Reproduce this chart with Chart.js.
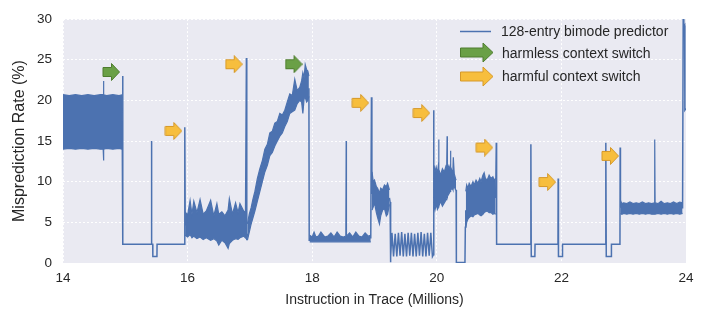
<!DOCTYPE html>
<html>
<head>
<meta charset="utf-8">
<script src="https://cdn.jsdelivr.net/npm/chart.js@4.4.1/dist/chart.umd.min.js"></script>
<style>
  body { margin: 0; background: #fff; }
  #wrap { position: relative; width: 715px; height: 310px; }
  #chart { display: block; }
  .item { position: absolute; white-space: nowrap; line-height: 16px;
          font-family: 'Liberation Sans', Arial, sans-serif; font-size: 14px; color: #262626; }
  .mark { position: absolute; }
</style>
</head>
<body>
<div id="wrap">
  <canvas id="chart" width="715" height="310"></canvas>
  <svg class="mark" style="left:460px;top:30px" width="31" height="3">
    <line x1="0" y1="1.5" x2="31" y2="1.5" stroke="#4C72B0" stroke-width="1.5"/>
  </svg>
  <span class="item" style="left:501px;top:23px">128-entry bimode predictor</span>
  <svg class="mark" style="left:459px;top:42px" width="36" height="21">
    <path d="M1.5 6 H24 V1 L34 10.5 L24 20 V15 H1.5 Z" fill="#6AA046" stroke="#4E7D2F" stroke-width="1"/>
  </svg>
  <span class="item" style="left:502px;top:45px">harmless context switch</span>
  <svg class="mark" style="left:459px;top:66px" width="36" height="21">
    <path d="M1.5 6 H24 V1 L34 10.5 L24 20 V15 H1.5 Z" fill="#F7BE3D" stroke="#D6992A" stroke-width="1"/>
  </svg>
  <span class="item" style="left:502px;top:68px">harmful context switch</span>
</div>
<script>
// main trace (null = covered by a dense band below)
const traceX = [14.95, 14.957, 14.962, 15.415, 15.42, 15.425, 15.44, 15.442, 15.508, 15.51, 15.95, 15.955, 15.962, 15.97,
  16.93, 16.944, 16.95, 16.96, 16.97,
  17.947, 17.952, 17.96, 17.97,
  18.94, 18.951, 18.958, 18.97,
  19.24, 19.25, 19.256, 19.262,
  19.28, 19.306, 19.332, 19.358, 19.384, 19.41, 19.436, 19.462, 19.488, 19.514, 19.54, 19.566, 19.592, 19.618,
  19.644, 19.67, 19.696, 19.722, 19.748, 19.774, 19.8, 19.826, 19.852, 19.878, 19.904, 19.93,
  19.944, 19.948, 19.955, 19.96,
  20.31, 20.314, 20.452, 20.458, 20.465, 20.47,
  20.945, 20.955, 20.96, 21.507, 21.51, 21.516, 21.574, 21.577, 21.945, 21.948, 21.953, 22.015, 22.018,
  22.709, 22.713, 22.72, 22.8, 22.803, 22.94, 22.943, 22.948, 22.955,
  23.945, 23.955, 23.965, 23.978, 23.982, 24.0];
const traceY = [17.4, 23.0, 2.3, 2.3, 15.0, 2.3, 2.3, 0.8, 0.8, 2.3, 2.3, 16.7, 4.6, null,
  5.0, 25.2, 2.8, 3.6, null,
  21.5, 2.8, 3.0, null,
  3.0, 20.4, 8.5, null,
  8.0, 7.5, 0.1, 0.8,
  3.7, 0.8, 3.6, 0.8, 3.7, 0.9, 3.8, 0.8, 3.6, 0.8, 3.7, 0.9, 3.7, 0.8,
  3.6, 0.8, 3.7, 0.9, 3.8, 0.8, 3.6, 0.8, 3.7, 0.9, 3.7, 0.8,
  1.0, 18.8, 9.0, null,
  9.0, 0.05, 0.05, 4.4, 6.5, null,
  8.0, 14.8, 2.3, 2.3, 14.6, 0.8, 0.8, 2.3, 2.3, 10.4, 0.8, 0.8, 2.3,
  2.3, 14.8, 0.8, 0.8, 2.3, 2.3, 14.2, 6.8, null,
  6.7, 30.0, 29.0, 29.2, 18.8, 19.0];

// dense oscillating stretches: x, upper edge, lower edge
const bandAX = [14.0, 14.1, 14.2, 14.3, 14.4, 14.5, 14.6, 14.645, 14.65, 14.655, 14.7, 14.8, 14.9, 14.95];
const bandAHi = [20.7, 20.6, 20.7, 20.6, 20.7, 20.6, 20.7, 20.7, 22.4, 20.7, 20.6, 20.7, 20.6, 20.7];
const bandALo = [14.0, 14.1, 14.0, 14.1, 14.0, 14.1, 14.0, 14.0, 12.6, 14.0, 14.1, 14.0, 14.1, 14.0];

const bandCX = [15.96, 16.0, 16.04, 16.07, 16.1, 16.15, 16.2, 16.25, 16.3, 16.37, 16.42, 16.47, 16.5, 16.55, 16.6, 16.65, 16.67, 16.72, 16.77, 16.81, 16.84, 16.9, 16.94];
const bandCHi = [6.3, 5.9, 7.7, 6.0, 7.6, 6.2, 7.8, 6.0, 6.4, 7.7, 5.8, 7.3, 6.0, 6.3, 5.8, 6.5, 7.9, 6.0, 7.4, 6.2, 7.3, 6.4, 6.2];
const bandCLo = [3.4, 3.2, 3.5, 3.1, 3.3, 3.0, 3.2, 2.9, 3.1, 2.8, 3.0, 2.7, 2.2, 2.8, 2.5, 1.8, 2.4, 2.8, 3.0, 2.9, 3.1, 3.3, 3.0];

const bandDX = [16.96, 16.99, 17.02, 17.05, 17.08, 17.12, 17.16, 17.2, 17.24, 17.28, 17.32, 17.36, 17.4, 17.44, 17.48, 17.52, 17.56, 17.6, 17.64, 17.68, 17.72, 17.76, 17.8, 17.83, 17.85, 17.87, 17.888, 17.91, 17.93, 17.947];
const bandDHi = [4.8, 6.0, 6.8, 7.9, 8.8, 10.4, 11.6, 12.6, 14.0, 14.6, 16.0, 16.2, 17.2, 17.4, 18.4, 18.2, 18.8, 19.8, 20.8, 20.6, 22.6, 21.2, 21.6, 22.4, 23.4, 22.8, 24.4, 23.8, 23.6, 23.0];
const bandDLo = [2.8, 3.8, 4.8, 5.6, 6.4, 7.6, 8.8, 10.0, 11.2, 12.0, 13.2, 13.6, 14.4, 15.0, 15.6, 16.0, 16.8, 17.4, 18.4, 18.6, 18.8, 19.6, 20.0, 19.8, 18.4, 20.2, 20.4, 19.8, 20.0, 20.5];

const bandEX = [17.96, 18.0, 18.03, 18.06, 18.1, 18.14, 18.2, 18.25, 18.3, 18.35, 18.4, 18.45, 18.5, 18.54, 18.545, 18.55, 18.6, 18.65, 18.7, 18.75, 18.8, 18.85, 18.9, 18.94];
const bandEHi = [3.4, 3.2, 3.8, 3.2, 3.3, 3.8, 3.2, 3.3, 3.7, 3.2, 3.8, 3.3, 3.2, 3.3, 15.0, 3.3, 3.7, 3.2, 3.8, 3.3, 3.2, 3.7, 3.3, 3.4];
const bandELo = [2.6, 2.6, 2.6, 2.6, 2.6, 2.6, 2.6, 2.6, 2.6, 2.6, 2.6, 2.6, 2.6, 2.6, 2.6, 2.6, 2.6, 2.6, 2.6, 2.6, 2.6, 2.6, 2.6, 2.6];

const bandFX = [18.96, 18.98, 19.0, 19.03, 19.05, 19.08, 19.1, 19.13, 19.16, 19.19, 19.21, 19.24];
const bandFHi = [11.2, 10.0, 10.2, 9.4, 9.2, 8.6, 9.2, 9.0, 9.6, 9.4, 9.8, 9.0];
const bandFLo = [6.5, 6.9, 7.4, 6.2, 5.6, 4.8, 5.8, 6.5, 6.7, 5.8, 6.0, 7.2];

const bandGX = [19.955, 19.97, 19.99, 20.01, 20.025, 20.03, 20.035, 20.06, 20.09, 20.12, 20.15, 20.16, 20.165, 20.17, 20.2, 20.215, 20.22, 20.225, 20.25, 20.26, 20.265, 20.28, 20.3, 20.31];
const bandGHi = [12.0, 11.2, 11.8, 11.0, 12.0, 15.2, 11.5, 10.8, 11.6, 11.2, 12.0, 12.4, 15.6, 12.2, 11.6, 12.0, 13.8, 11.8, 11.2, 11.8, 13.0, 11.0, 10.4, 10.2];
const bandGLo = [7.0, 6.5, 7.2, 6.6, 6.9, 7.2, 7.0, 7.6, 7.0, 7.4, 7.8, 8.0, 8.0, 8.2, 8.6, 8.8, 9.0, 9.0, 9.2, 9.0, 9.2, 9.4, 9.0, 9.0];

const bandHX = [20.465, 20.48, 20.5, 20.52, 20.55, 20.58, 20.6, 20.63, 20.66, 20.69, 20.71, 20.74, 20.76, 20.78, 20.81, 20.84, 20.87, 20.9, 20.92, 20.945];
const bandHHi = [8.8, 9.6, 9.2, 9.8, 9.4, 10.0, 9.6, 10.2, 9.8, 10.4, 10.0, 10.8, 11.1, 10.4, 10.2, 10.8, 10.4, 10.6, 10.2, 10.4];
const bandHLo = [4.4, 5.0, 5.4, 5.6, 5.8, 5.7, 5.9, 6.0, 6.1, 5.9, 5.8, 6.0, 6.2, 6.3, 6.4, 6.2, 6.2, 6.0, 6.1, 6.0];

const bandIX = [22.948, 22.97, 23.0, 23.05, 23.1, 23.15, 23.2, 23.25, 23.3, 23.35, 23.4, 23.45, 23.492, 23.498, 23.504, 23.55, 23.6, 23.65, 23.7, 23.75, 23.8, 23.85, 23.9, 23.945];
const bandIHi = [7.7, 7.3, 7.4, 7.3, 7.5, 7.3, 7.4, 7.3, 7.5, 7.3, 7.4, 7.3, 7.4, 15.2, 7.4, 7.3, 7.6, 7.3, 7.4, 7.3, 7.5, 7.3, 7.5, 7.4];
const bandILo = [6.1, 6.0, 6.1, 6.0, 6.1, 6.0, 6.1, 6.0, 6.1, 6.0, 6.1, 6.0, 6.0, 6.0, 6.0, 6.1, 6.0, 6.1, 6.0, 6.1, 6.0, 6.1, 6.0, 6.1];

// context switch arrows
const harmlessX = [14.77, 17.7];
const harmlessY = [23.5, 24.45];
const harmfulX = [15.77, 16.74, 18.77, 19.75, 20.76, 21.77, 22.78];
const harmfulY = [16.25, 24.45, 19.7, 18.45, 14.2, 9.96, 13.17];

const xTicks = [14, 16, 18, 20, 22, 24];
const yTicks = [0, 5, 10, 15, 20, 25, 30];

const lineColor = '#4C72B0';

function toPoints(xs, ys) {
    return xs.map((x, i) => ({ x: x, y: ys[i] }));
}

function makeArrow(fill, stroke) {
    const c = document.createElement('canvas');
    c.width = 18;
    c.height = 18;
    const g = c.getContext('2d');
    g.beginPath();
    g.moveTo(1, 4.5);
    g.lineTo(9.5, 4.5);
    g.lineTo(9.5, 0.5);
    g.lineTo(17.5, 9);
    g.lineTo(9.5, 17.5);
    g.lineTo(9.5, 13.5);
    g.lineTo(1, 13.5);
    g.closePath();
    g.fillStyle = fill;
    g.fill();
    g.strokeStyle = stroke;
    g.lineWidth = 1;
    g.stroke();
    return c;
}

const bands = [
    [bandAX, bandAHi, bandALo], [bandCX, bandCHi, bandCLo], [bandDX, bandDHi, bandDLo],
    [bandEX, bandEHi, bandELo], [bandFX, bandFHi, bandFLo], [bandGX, bandGHi, bandGLo],
    [bandHX, bandHHi, bandHLo], [bandIX, bandIHi, bandILo]
];

const datasets = [];
bands.forEach(([xs, hi, lo]) => {
    datasets.push({
        data: toPoints(xs, hi), showLine: true, fill: '+1', backgroundColor: lineColor,
        borderColor: lineColor, borderWidth: 1.2, pointRadius: 0, order: 2
    });
    datasets.push({
        data: toPoints(xs, lo), showLine: true, fill: false,
        borderColor: lineColor, borderWidth: 1.2, pointRadius: 0, order: 2
    });
});
datasets.push({
    data: toPoints(traceX, traceY), showLine: true, spanGaps: false, fill: false,
    borderColor: lineColor, borderWidth: 1.5, pointRadius: 0, order: 1
});
datasets.push({
    data: toPoints(harmlessX, harmlessY), showLine: false,
    pointStyle: makeArrow('#6AA046', '#4E7D2F'), order: 0
});
datasets.push({
    data: toPoints(harmfulX, harmfulY), showLine: false,
    pointStyle: makeArrow('#F7BE3D', '#D6992A'), order: 0
});

const plotBackground = {
    id: 'plotBackground',
    beforeDraw(chart) {
        const { ctx, chartArea: a } = chart;
        ctx.save();
        ctx.fillStyle = '#EAEAF2';
        ctx.fillRect(a.left, a.top, a.right - a.left, a.bottom - a.top);
        ctx.restore();
    }
};

const tickFont = { family: "'Liberation Sans', Arial, sans-serif", size: 13.5 };

new Chart(document.getElementById('chart').getContext('2d'), {
    type: 'scatter',
    data: { datasets: datasets },
    options: {
        responsive: false,
        animation: false,
        devicePixelRatio: 1,
        layout: { padding: { left: 0, right: 29, top: 13, bottom: 0 } },
        elements: { line: { tension: 0 } },
        plugins: { legend: { display: false }, tooltip: { enabled: false } },
        scales: {
            x: {
                type: 'linear', min: 14, max: 24,
                afterBuildTicks: (s) => { s.ticks = xTicks.map(v => ({ value: v })); },
                afterFit: (s) => { s.height = 47; },
                ticks: { font: tickFont, color: '#262626', padding: 7 },
                grid: { color: '#FFFFFF', lineWidth: 1, drawTicks: false },
                border: { display: false, dash: [2, 2] },
                title: {
                    display: true, text: 'Instruction in Trace (Millions)', color: '#262626',
                    font: { family: "'Liberation Sans', Arial, sans-serif", size: 14 },
                    padding: { top: 0, bottom: 1 }
                }
            },
            y: {
                type: 'linear', min: 0, max: 30,
                afterBuildTicks: (s) => { s.ticks = yTicks.map(v => ({ value: v })); },
                afterFit: (s) => { s.width = 63; },
                ticks: { font: tickFont, color: '#262626', padding: 11 },
                grid: { color: '#FFFFFF', lineWidth: 1, drawTicks: false },
                border: { display: false, dash: [2, 2] },
                title: {
                    display: true, text: 'Misprediction Rate (%)', color: '#262626',
                    font: { family: "'Liberation Sans', Arial, sans-serif", size: 16 },
                    padding: { top: 10, bottom: 0 }
                }
            }
        }
    },
    plugins: [plotBackground]
});
</script>
</body>
</html>
